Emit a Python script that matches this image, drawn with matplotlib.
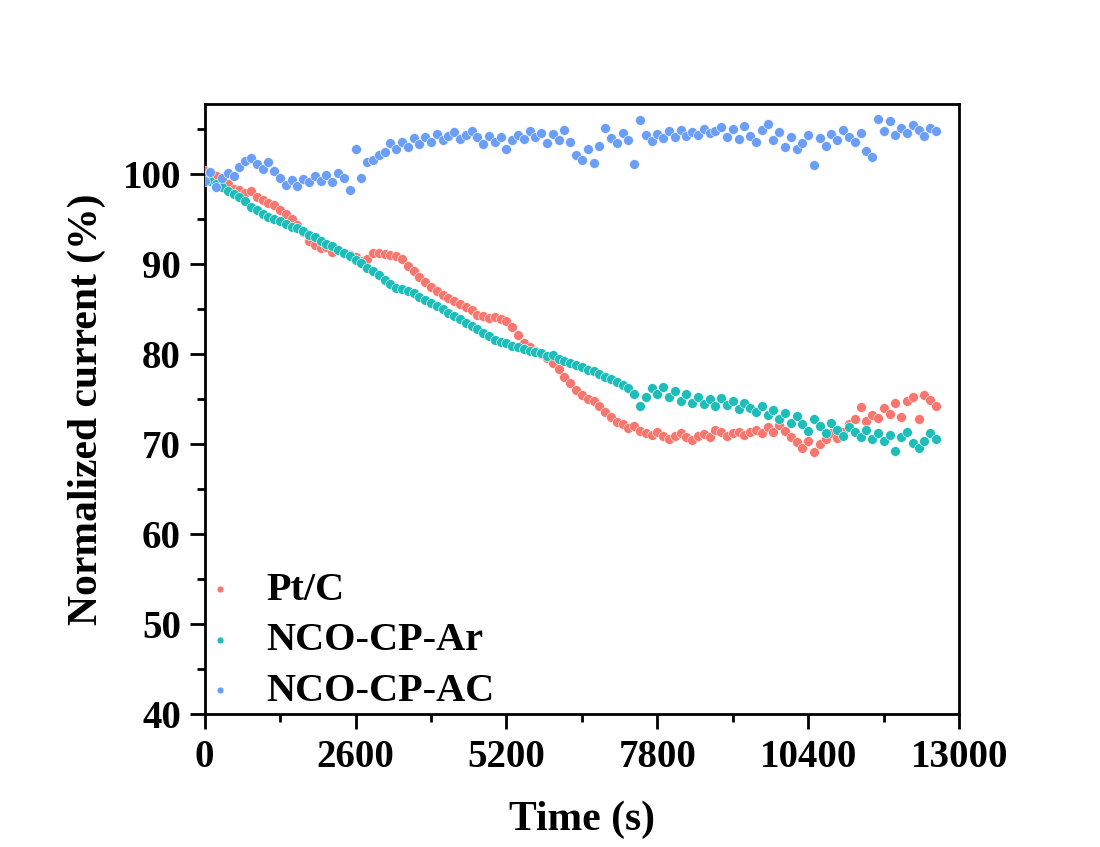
# Chronoamperometry stability: normalized current vs time for three catalysts
import numpy as np
import matplotlib
matplotlib.use("Agg")
import matplotlib.pyplot as plt
from matplotlib.ticker import MultipleLocator

# time axis (s), one reading every 100 s
time_s = list(range(0, 12700, 100))

pt_c = [100.4, 100.2, 99.8, 99.2, 98.9, 98.4, 98.3, 97.9, 98.1, 97.5,
        97.2, 96.8, 96.6, 96.0, 95.6, 95.0, 94.4, 93.6, 92.6, 92.1,
        91.8, 91.9, 91.4, 91.6, 91.2, 91.0, 90.8, 90.4, 90.6, 91.2,
        91.3, 91.1, 91.0, 90.9, 90.6, 89.8, 89.3, 88.6, 88.0, 87.5,
        87.0, 86.6, 86.3, 85.9, 85.6, 85.2, 84.9, 84.4, 84.2, 84.0,
        84.1, 83.9, 83.7, 83.0, 82.1, 81.3, 80.8, 80.4, 80.0, 79.6,
        79.0, 78.4, 77.5, 76.8, 76.0, 75.5, 75.0, 74.8, 74.2, 73.6,
        73.0, 72.5, 72.2, 71.8, 72.0, 71.5, 71.2, 71.0, 71.4, 70.9,
        70.6, 70.9, 71.2, 70.8, 70.5, 70.9, 71.1, 70.8, 71.6, 71.3,
        70.9, 71.2, 71.4, 71.0, 71.3, 71.6, 71.2, 71.9, 71.4, 72.1,
        71.5, 70.8, 70.2, 69.6, 70.4, 69.1, 70.0, 70.6, 71.2, 70.7,
        71.4, 72.2, 72.8, 74.1, 72.6, 73.2, 72.9, 74.0, 73.4, 74.6,
        73.0, 74.8, 75.3, 72.8, 75.5, 74.9, 74.3]

nco_cp_ar = [99.6, 99.3, 98.9, 98.6, 98.2, 97.8, 97.5, 97.0, 96.4, 96.0,
             95.6, 95.3, 95.0, 94.8, 94.5, 94.2, 94.0, 93.7, 93.3, 93.0,
             92.6, 92.3, 92.0, 91.6, 91.3, 90.9, 90.5, 90.1, 89.6, 89.2,
             88.8, 88.3, 87.8, 87.4, 87.2, 87.0, 86.8, 86.4, 86.0, 85.7,
             85.4, 85.0, 84.6, 84.3, 83.9, 83.5, 83.1, 82.8, 82.4, 82.0,
             81.6, 81.4, 81.2, 80.9, 80.8, 80.6, 80.4, 80.3, 80.1, 79.8,
             79.9, 79.5, 79.2, 79.0, 78.8, 78.6, 78.3, 78.1, 77.8, 77.5,
             77.3, 76.9, 76.6, 76.3, 75.6, 74.2, 75.3, 76.2, 75.6, 76.4,
             75.2, 75.9, 74.8, 75.6, 74.6, 75.3, 74.5, 75.0, 74.2, 75.1,
             74.4, 74.8, 73.9, 74.6, 74.0, 73.6, 74.3, 73.2, 73.8, 72.8,
             73.5, 72.4, 73.1, 72.2, 71.5, 72.8, 72.0, 71.2, 72.4, 71.6,
             70.9, 71.9, 71.3, 70.8, 71.6, 70.6, 71.2, 70.4, 71.0, 69.2,
             70.8, 71.4, 70.1, 69.6, 70.4, 71.2, 70.6]

nco_cp_ac = [99.3, 100.3, 98.6, 99.6, 100.2, 99.8, 100.8, 101.5, 101.8, 101.2,
             100.6, 101.4, 100.4, 99.6, 98.8, 99.4, 98.7, 99.5, 99.1, 99.8,
             99.3, 99.9, 99.2, 100.2, 99.6, 98.3, 102.8, 99.6, 101.4, 101.6,
             102.2, 102.5, 103.5, 102.8, 103.6, 103.0, 104.0, 103.4, 104.2, 103.6,
             104.5, 103.8, 104.3, 104.7, 103.9, 104.4, 104.8, 104.2, 103.4, 104.3,
             103.6, 104.1, 102.8, 103.8, 104.4, 103.9, 104.8, 104.1, 104.6, 103.5,
             104.5, 103.8, 104.9, 103.6, 102.2, 101.6, 102.8, 101.3, 103.2, 105.2,
             104.0, 103.5, 104.6, 103.8, 101.2, 106.0, 104.4, 103.7, 104.5, 104.0,
             104.8, 104.2, 104.9, 104.3, 104.7, 104.4, 105.0, 104.6, 104.8, 105.3,
             104.2, 105.0, 103.9, 105.4, 104.3, 103.6, 104.9, 105.6, 103.8, 104.7,
             103.0, 104.2, 102.8, 103.5, 104.4, 101.0, 104.0, 103.2, 104.5, 103.8,
             104.9, 104.2, 103.6, 104.6, 102.6, 101.9, 106.2, 104.8, 105.9, 104.4,
             105.2, 104.6, 105.5, 104.9, 104.3, 105.2, 104.8]

labels = ["Pt/C", "NCO-CP-Ar", "NCO-CP-AC"]
colors = ["#F8766D", "#1DBDBA", "#6A9EF8"]

plt.rcParams["font.family"] = ["Liberation Serif", "DejaVu Serif"]
plt.rcParams["font.weight"] = "bold"

fig = plt.figure(figsize=(11, 8.47), dpi=100)
ax = fig.add_axes([0.186, 0.157, 0.686, 0.72])

for series, lab, col in zip([pt_c, nco_cp_ar, nco_cp_ac], labels, colors):
    ax.scatter(time_s, series, s=50, color=col, edgecolors="white",
               linewidths=0.4, label=lab, zorder=3)

ax.set_xlim(0, 13000)
ax.set_ylim(40, 107.8)
ax.xaxis.set_major_locator(MultipleLocator(2600))
ax.xaxis.set_minor_locator(MultipleLocator(1300))
ax.yaxis.set_major_locator(MultipleLocator(10))
ax.yaxis.set_minor_locator(MultipleLocator(5))
ax.tick_params(which="both", direction="out", top=False, right=False, width=2)
ax.tick_params(which="major", length=11, labelsize=28)
ax.tick_params(which="minor", length=6)
ax.tick_params(axis="x", which="major", pad=7)
ax.tick_params(axis="y", which="major", pad=6)
for sp in ax.spines.values():
    sp.set_linewidth(2)

ax.set_xlabel("Time (s)", fontsize=30, fontweight="bold", labelpad=18)
ax.set_ylabel("Normalized current (%)", fontsize=30, fontweight="bold", labelpad=12)

leg = ax.legend(loc="upper left", bbox_to_anchor=(-0.038, 0.28), frameon=False,
                fontsize=29, markerscale=0.7, handlelength=0.8,
                handletextpad=0.75, labelspacing=0.33, borderpad=0.2)

fig.savefig("out.png", dpi=100)
